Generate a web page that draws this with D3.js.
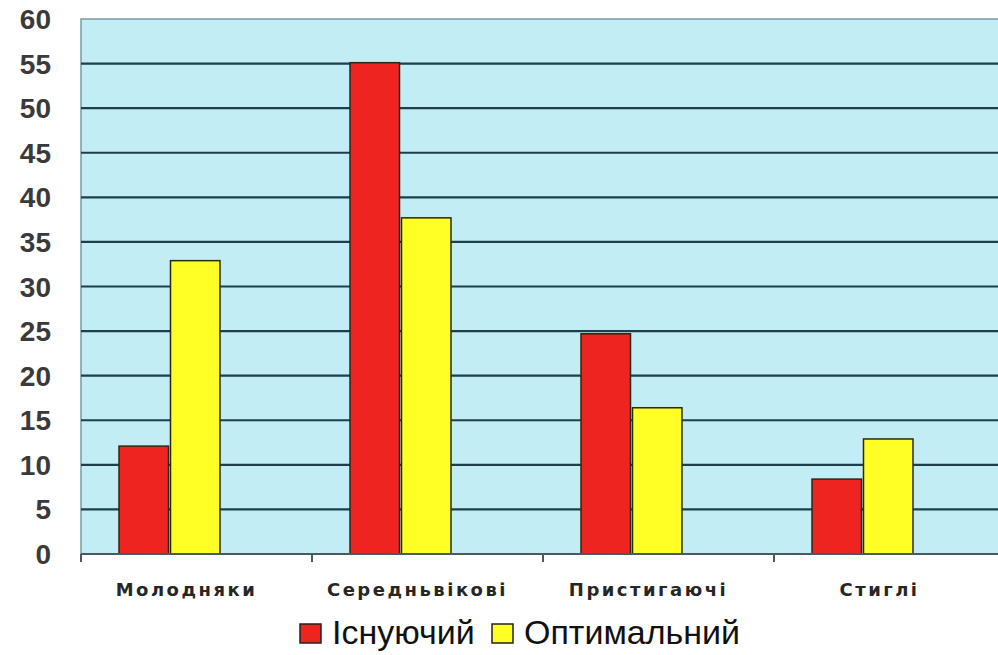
<!DOCTYPE html>
<html>
<head>
<meta charset="utf-8">
<title>Chart</title>
<script src="https://d3js.org/d3.v7.min.js"></script>
<style>
  body { margin: 0; background: #fff; }
  text { font-family: 'Liberation Sans', Arial, sans-serif; }
  .ytick { font-size: 28px; font-weight: bold; fill: #3a3a3a; }
  .cat { font-family: 'DejaVu Sans', sans-serif; font-size: 18px; font-weight: bold; fill: #262626; letter-spacing: 2.5px; }
  .leg { font-size: 34px; fill: #111; }
</style>
</head>
<body>
<script>
// data
var categories = ["Молодняки", "Середньвікові", "Пристигаючі", "Стиглі"];
var seriesNames = ["Існуючий", "Оптимальний"];
var existing = [12.1, 55.1, 24.7, 8.4];
var optimal = [32.9, 37.7, 16.4, 12.9];
var yTicks = [0, 5, 10, 15, 20, 25, 30, 35, 40, 45, 50, 55, 60];
var colors = ["#ee2420", "#ffff26"];

var width = 998, height = 655;
var plot = {left: 81, right: 1005, top: 19, bottom: 554};

var svg = d3.select("body").append("svg")
    .attr("width", width)
    .attr("height", height);

var y = d3.scaleLinear().domain([0, 60]).range([plot.bottom, plot.top]);

// category bands, ticks sit on band edges
var x0 = d3.scaleBand().domain(categories).range([plot.left, plot.right]);
// bars sit left of the band centre in the original
var x1 = d3.scaleBand().domain(seriesNames).range([37, 140]);

// plot background
svg.append("rect")
    .attr("x", plot.left).attr("y", plot.top)
    .attr("width", plot.right - plot.left).attr("height", plot.bottom - plot.top)
    .attr("fill", "#c2edf5")
    .attr("stroke", "#7a9aa0").attr("stroke-width", 1.5);

// gridlines
svg.append("g").selectAll("line")
    .data(yTicks.filter(function(d){ return d > 0 && d < 60; }))
    .enter().append("line")
    .attr("x1", plot.left).attr("x2", plot.right)
    .attr("y1", function(d){ return y(d); })
    .attr("y2", function(d){ return y(d); })
    .attr("stroke", "#1d3f4c").attr("stroke-width", 2.2);

// y labels
svg.append("g").selectAll("text")
    .data(yTicks)
    .enter().append("text")
    .attr("class", "ytick")
    .attr("x", 51)
    .attr("y", function(d){ return y(d); })
    .attr("dy", "0.36em")
    .attr("text-anchor", "end")
    .text(function(d){ return d; });

// bars
var rows = categories.map(function(c, i){
  return {cat: c, vals: [existing[i], optimal[i]]};
});

var groups = svg.append("g").selectAll("g")
    .data(rows)
    .enter().append("g")
    .attr("transform", function(d){ return "translate(" + x0(d.cat) + ",0)"; });

groups.selectAll("rect")
    .data(function(d){ return d.vals.map(function(v, j){ return {s: seriesNames[j], v: v, j: j}; }); })
    .enter().append("rect")
    .attr("x", function(d){ return x1(d.s) + 1; })
    .attr("width", x1.bandwidth() - 2)
    .attr("y", function(d){ return y(d.v); })
    .attr("height", function(d){ return y(0) - y(d.v); })
    .attr("fill", function(d){ return colors[d.j]; })
    .attr("stroke", "#2a2a10").attr("stroke-width", 1.5);

// x axis line + ticks
svg.append("line")
    .attr("x1", plot.left).attr("x2", plot.right)
    .attr("y1", plot.bottom).attr("y2", plot.bottom)
    .attr("stroke", "#4a5a60").attr("stroke-width", 2);

svg.append("g").selectAll("line")
    .data(categories)
    .enter().append("line")
    .attr("x1", function(d){ return x0(d); })
    .attr("x2", function(d){ return x0(d); })
    .attr("y1", plot.bottom).attr("y2", plot.bottom + 8)
    .attr("stroke", "#4a5a60").attr("stroke-width", 2);

// category labels
svg.append("g").selectAll("text")
    .data(categories)
    .enter().append("text")
    .attr("class", "cat")
    .attr("x", function(d){ return x0(d) + x0.bandwidth() / 2 - 10; })
    .attr("y", 596)
    .attr("text-anchor", "middle")
    .text(function(d){ return d; });

// legend
var legX = [300, 492];
var leg = svg.append("g").selectAll("g")
    .data(seriesNames)
    .enter().append("g")
    .attr("transform", function(d, i){ return "translate(" + legX[i] + ",624)"; });

leg.append("rect")
    .attr("width", 21).attr("height", 19)
    .attr("fill", function(d, i){ return colors[i]; })
    .attr("stroke", "#222").attr("stroke-width", 1.5);

leg.append("text")
    .attr("class", "leg")
    .attr("x", 32).attr("y", 20)
    .text(function(d){ return d; });
</script>
</body>
</html>
